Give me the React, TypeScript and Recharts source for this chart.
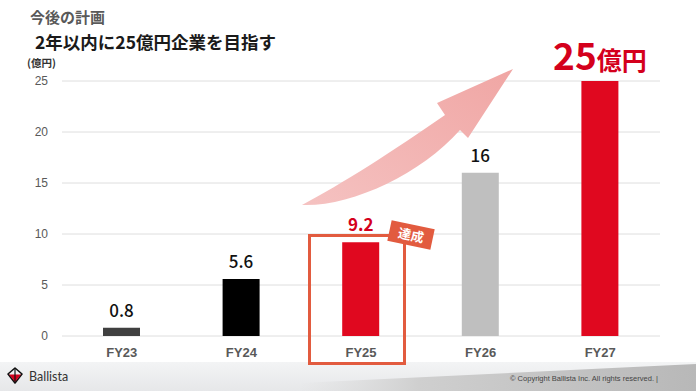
import React from "react";
import { BarChart, Bar, XAxis, YAxis, CartesianGrid, Cell, LabelList } from "recharts";

const categories = ["FY23", "FY24", "FY25", "FY26", "FY27"];
const revenue = [0.8, 5.6, 9.2, 16, 25];
const valueLabels = ["0.8", "5.6", "9.2", "16", "25"];
const yTicks = [0, 5, 10, 15, 20, 25];

const BAR_COLORS = ["#404040", "#000000", "#e0081f", "#bfbfbf", "#e0081f"];
const LABEL_COLORS = ["#111111", "#111111", "#d4001c", "#111111", "#d4001c"];
const FONT = "'Noto Sans CJK JP', 'Noto Sans', sans-serif";

const data = categories.map((name, i) => ({ name, value: revenue[i], label: valueLabels[i] }));

// value labels above the bars; the last one is the big "25億円"
const renderLabel = (props: any) => {
  const { x, y, width, index } = props;
  const cx = x + width / 2;
  if (index === data.length - 1) {
    return (
      <text x={cx} y={y - 11} textAnchor="middle" fill={LABEL_COLORS[index]} fontFamily={FONT} fontWeight={700}>
        <tspan fontSize={37}>{data[index].label}</tspan>
        <tspan fontSize={25}>億円</tspan>
      </text>
    );
  }
  return (
    <text x={cx} y={y - 11} textAnchor="middle" fill={LABEL_COLORS[index]} fontFamily={FONT} fontWeight={index === 2 ? 700 : 500} fontSize={17}>
      {data[index].label}
    </text>
  );
};

export default function App() {
  return (
    <div style={{ position: "fixed", left: 0, top: 0, width: 696, height: 391, background: "#fff", overflow: "hidden" }}>
      {/* footer band behind the chart */}
      <svg width={696} height={391} style={{ position: "absolute", left: 0, top: 0 }}>
        <defs>
          <linearGradient id="footL" x1="0" y1="0" x2="0" y2="1">
            <stop offset="0" stopColor="#f3f4f5" />
            <stop offset="1" stopColor="#e6e7e9" />
          </linearGradient>
          <linearGradient id="footR" x1="0" y1="0" x2="1" y2="0">
            <stop offset="0" stopColor="#d8d8d8" stopOpacity={0} />
            <stop offset="0.3" stopColor="#cfcfcf" />
            <stop offset="1" stopColor="#b8b8b8" />
          </linearGradient>
        </defs>
        <rect x={0} y={362} width={696} height={29} fill="url(#footL)" />
        <polygon points="300,383 696,364 696,391 300,391" fill="url(#footR)" />
        <polygon points="15,368 22,374 15,383 8,374" fill="none" stroke="#111" strokeWidth={1.6} strokeLinejoin="round" />
        <polygon points="9,374.5 21,374.5 15,382" fill="#d4001c" />
        <line x1={15} y1={368} x2={15} y2={382} stroke="#111" strokeWidth={1.2} />
        <text x={29} y={381} fontFamily="Lato, sans-serif" fontSize={12.5} fill="#333">Ballista</text>
        <text x={510} y={381} fontFamily="'Liberation Sans Narrow', 'Liberation Sans', sans-serif" fontSize={8} fill="#444" textLength={148} lengthAdjust="spacingAndGlyphs">
          © Copyright Ballista Inc. All rights reserved.  |
        </text>
      </svg>

      <div style={{ position: "absolute", left: 0, top: 0 }}>
        <BarChart width={696} height={391} data={data} margin={{ top: 81, right: 36, bottom: 25, left: 22 }}>
          <CartesianGrid vertical={false} stroke="#dedede" />
          <XAxis
            dataKey="name"
            axisLine={false}
            tickLine={false}
            height={30}
            tickMargin={6}
            tick={{ fill: "#595959", fontSize: 13, fontWeight: 700, fontFamily: "'Liberation Sans', Arial, sans-serif" }}
          />
          <YAxis
            domain={[0, 25]}
            ticks={yTicks}
            axisLine={false}
            tickLine={false}
            width={40}
            tickMargin={8}
            tick={{ fill: "#595959", fontSize: 12, fontFamily: "'Liberation Sans', Arial, sans-serif" }}
          />
          <Bar dataKey="value" barSize={37} isAnimationActive={false}>
            {data.map((_, i) => (
              <Cell key={i} fill={BAR_COLORS[i]} />
            ))}
            <LabelList dataKey="value" content={renderLabel} />
          </Bar>
        </BarChart>
      </div>

      {/* titles, growth arrow and the FY25 highlight */}
      <svg width={696} height={391} style={{ position: "absolute", left: 0, top: 0, pointerEvents: "none" }}>
        <defs>
          <linearGradient id="arrowGrad" x1="0" y1="1" x2="1" y2="0">
            <stop offset="0" stopColor="#f5c2c1" />
            <stop offset="1" stopColor="#f0a6a4" />
          </linearGradient>
        </defs>
        <text x={30} y={23} fontFamily={FONT} fontWeight={700} fontSize={15} fill="#595959">今後の計画</text>
        <text x={35} y={49} fontFamily={FONT} fontWeight={700} fontSize={17.5} fill="#1a1a1a">2年以内に25億円企業を目指す</text>
        <text x={27} y={67} fontFamily={FONT} fontWeight={700} fontSize={10.5} fill="#333">(億円)</text>

        <path
          d="M302,205 C350,207 420,175 460,130 L468,138 L513,69 L437,103 L445,115 C395,150 340,185 302,205 Z"
          fill="url(#arrowGrad)"
        />

        <rect x={309.5} y={235.5} width={95} height={128} fill="none" stroke="#e25b3f" strokeWidth={3} />
        <g transform="translate(411,235) rotate(12)">
          <rect x={-22} y={-10.5} width={44} height={21} fill="#e25b3f" />
          <text x={0} y={5} textAnchor="middle" fontFamily={FONT} fontWeight={700} fontSize={13} fill="#fff">達成</text>
        </g>
      </svg>
    </div>
  );
}
